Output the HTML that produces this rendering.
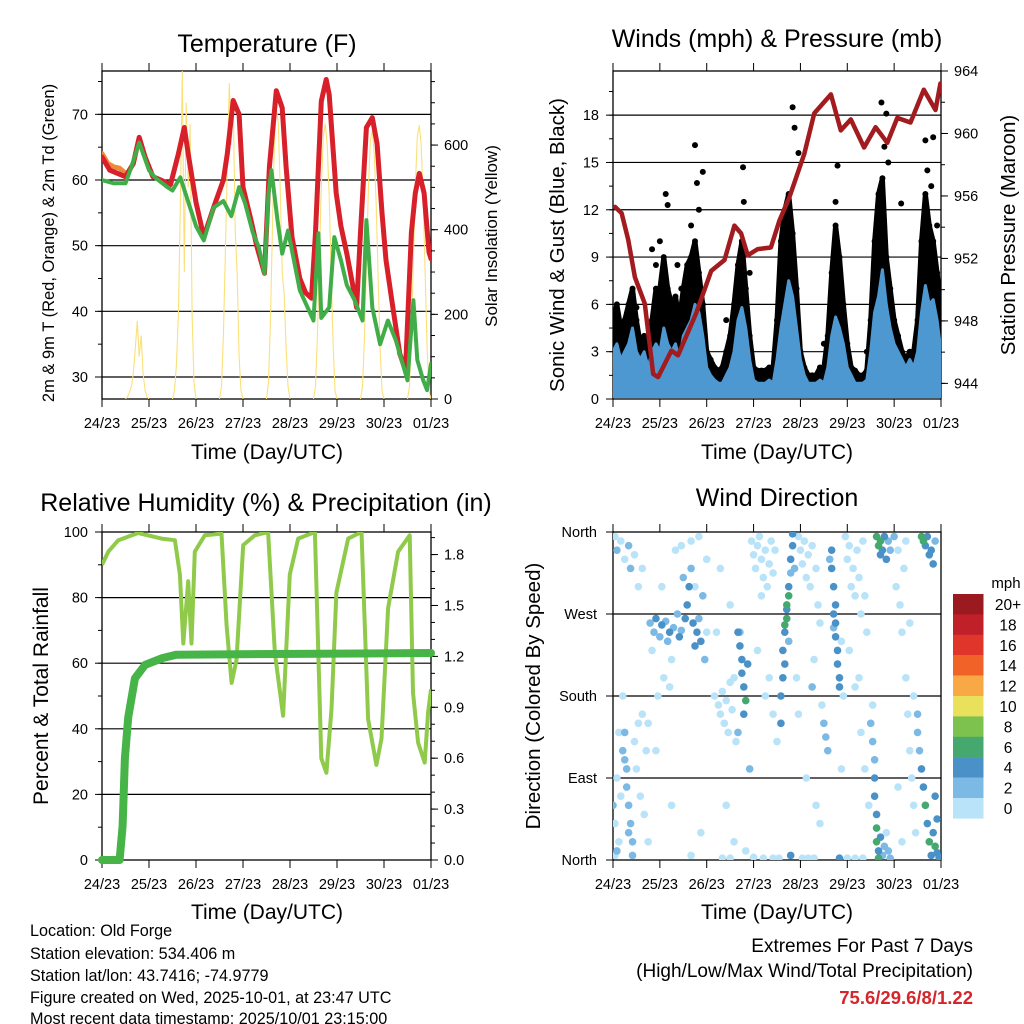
<!DOCTYPE html>
<html><head><meta charset="utf-8"><style>
html,body{margin:0;padding:0;background:#fff;}
svg{display:block;font-family:"Liberation Sans",Arial,sans-serif;}
</style></head><body>
<svg id="fig" width="1024" height="1024" viewBox="0 0 1024 1024" xmlns="http://www.w3.org/2000/svg">
<rect width="1024" height="1024" fill="#fff"/>
<text x="267" y="52" font-size="25" text-anchor="middle">Temperature (F)</text>
<text x="777" y="47" font-size="25" text-anchor="middle">Winds (mph) &amp; Pressure (mb)</text>
<text x="266" y="511" font-size="25" text-anchor="middle">Relative Humidity (%) &amp; Precipitation (in)</text>
<text x="777" y="506" font-size="25" text-anchor="middle">Wind Direction</text>
<text x="267" y="459" font-size="21" text-anchor="middle">Time (Day/UTC)</text>
<text x="777" y="459" font-size="21" text-anchor="middle">Time (Day/UTC)</text>
<text x="267" y="919" font-size="21" text-anchor="middle">Time (Day/UTC)</text>
<text x="777" y="919" font-size="21" text-anchor="middle">Time (Day/UTC)</text>
<text transform="translate(54,243) rotate(-90)" font-size="16.5" text-anchor="middle">2m &amp; 9m T (Red, Orange) &amp; 2m Td (Green)</text>
<text transform="translate(497,236) rotate(-90)" font-size="17" text-anchor="middle">Solar Insolation (Yellow)</text>
<text transform="translate(564,245) rotate(-90)" font-size="20.5" text-anchor="middle">Sonic Wind &amp; Gust (Blue, Black)</text>
<text transform="translate(1015,235) rotate(-90)" font-size="20.5" text-anchor="middle">Station Pressure (Maroon)</text>
<text transform="translate(48,696) rotate(-90)" font-size="21" text-anchor="middle">Percent &amp; Total Rainfall</text>
<text transform="translate(540,696) rotate(-90)" font-size="20.5" text-anchor="middle">Direction (Colored By Speed)</text>
<g font-size="16.2">
<text x="30" y="936">Location: Old Forge</text>
<text x="30" y="959">Station elevation: 534.406 m</text>
<text x="30" y="981">Station lat/lon: 43.7416; -74.9779</text>
<text x="30" y="1003">Figure created on Wed, 2025-10-01, at 23:47 UTC</text>
<text x="30" y="1025" dy="-1">Most recent data timestamp: 2025/10/01 23:15:00</text>
</g>
<text x="973" y="952" font-size="19" text-anchor="end">Extremes For Past 7 Days</text>
<text x="973" y="977" font-size="19" text-anchor="end">(High/Low/Max Wind/Total Precipitation)</text>
<text x="973" y="1004" font-size="18.5" font-weight="bold" fill="#d4262b" text-anchor="end">75.6/29.6/8/1.22</text>
<text x="1006" y="588" font-size="15" text-anchor="middle">mph</text>
</svg>
<script>
const dayLabels=["24/23","25/23","26/23","27/23","28/23","29/23","30/23","01/23"];
const tempHours=[0,4,8,12,16,19,22,26,30,35,39,42,44,48,52,57,62,64,67,70,72,76,79,83,85.5,89,92,94,97,101,104,107,109,112,114.5,116,119.6,122,125,128,130,132,135,138,140.5,143,145,148,152,155,158,160,162,164.5,167,168];
const tempRed=[63.5,61.5,61,60.5,62.5,66.5,63.5,60.5,60,59.3,64,68,64,56.6,51.3,55.8,60,64,72.1,70,58.9,54,50,45.8,62,73.6,71,62,51.3,45,42.8,42,52,72,75.3,73,58,53,48.8,44,40.6,52,68,69.5,65.5,55,47.8,41.7,33.6,31,52,58,61,58,49,48];
const orangeHours=[0,3,6,9,12];
const tempOrange=[64,62.5,62,61.8,61];
const tdHours=[0,6,12,15,19,24,27,33,36,40,45,48,52,57,62,66,70,73,77,80,83,85,86.5,89.6,92,95,98,101,105,108,110.5,112,116,118.6,122,125,129,133,135,138,142,146,150,156,159,161,164,166,168];
const tdGreen=[60,59.5,59.5,62,65.7,61.5,60.4,59,58.4,60.4,55.8,53,50.8,55.8,56.8,54.5,58.9,56.5,52,49.8,45.8,58,61.5,53.9,48.8,52.3,47.8,43.2,40.6,38.6,51.9,39,40.6,51.3,47.8,44,41.7,38.6,53.9,40.6,35,38.6,35.6,29.5,41.7,32.6,29.5,28,32];
const solarDays=[
[0,5,15,30,60,120,185,100,150,60,20,5,0],
[0,20,80,200,450,775,300,700,500,650,200,40,0],
[0,30,150,350,550,746,600,700,400,300,100,20,0],
[0,40,180,400,600,690,650,500,300,250,120,30,0],
[0,30,150,330,500,620,650,600,480,300,130,20,0],
[0,30,140,320,490,610,635,580,460,290,120,20,0],
[0,30,150,330,500,620,647,600,470,300,120,20,0]];
const windHi=[3,3.5,2.5,3,3.5,4.5,3,2.5,3,2,3,3.5,3,4.5,3.5,3,3.5,2.5,4,4.5,5,6,5.5,4,2,1.5,1.2,1,1,1.5,2,3,5,5.8,4.5,2.5,1.2,1,1,1,1.2,1,2.5,4.5,6,7.5,6.5,4.5,2.5,1.5,1,1,1,1.2,1,2,4,5.2,4.5,3.5,2,1.5,1,1,1,1.2,3,5.5,6.5,8.2,6,4.5,3.5,3,2.5,2,2.5,2,3,5.5,7.2,6,6.3,5,3];
const gustHi=[5,6,4.5,5,6,7,5,3.5,4,3,5,7,7,9,7,6,6.5,5,7,8.5,9,10,8,6,3,2.5,2,1.8,2,3,4,6,8.5,10,7,4,2,1.8,1.8,1.8,2,2,5,10,12,13,10.5,7,3,2,1.5,1.5,1.5,2,2,4,8,11,9,6,3.5,2,1.8,1.5,1.5,1.8,5,10,13,14,9,7,5,4,3,2.5,3,3,5,10,13,11,10,8,6];
const gustOutHours=[3,10,12,22,24,27,28,35,40,42,43,46,44,66.6,67,70,92,93,95,115,114,137.5,140,139,141,147.6,160,164,161,163,166,20,33,58,88,108,130];
const gustOutValues=[4.5,6.5,5.8,8.5,10,13,12.3,7,11,16.1,13.7,14.4,12,14.7,12.5,8,18.5,17.2,15.6,14.8,12.5,18.8,18.1,16,15,12.4,16.4,16.6,14.5,13.5,11,9.5,8.5,5,11,3.5,3];
const pressHours=[1,4.4,7.8,11.2,16.3,20.6,23.1,29.9,33.3,42.6,50.3,57.1,62.2,65.6,69,74.1,80.9,85.2,90.3,98,103.1,111.6,116.7,121.8,128.6,134.5,140.5,145.6,152.4,159.2,165.2,167.7];
const pressValues=[955.3,954.9,953.2,950.8,949.1,944.6,944.4,946.1,945.8,948.5,951.2,951.9,954.1,953.6,952.2,952.6,952.7,954.4,955.9,958.7,961.3,962.5,960.2,960.9,959.1,960.4,959.4,961.0,960.7,962.8,961.5,963.2];
const rhHours=[0,3.2,8.3,18.5,30.4,37.2,39.8,41.5,44,45.7,47.4,52.5,61,63.6,66.2,68.7,72.1,78,84.8,88.3,92.5,95.9,100.2,108.7,112,114.6,117.2,119.7,125.7,132.5,135.9,140.1,142.7,146.1,151.2,157.1,158.8,161.4,164.8,166.5,168];
const rhValues=[90,94,97.5,99.7,98,97.5,87,66,85,66,94,99,99.5,71.5,54,61,96,99,100,63,44,87,98,100,31,26.6,46,81.6,98,100,43,29,37,76.8,94,99,51,35.8,29.7,45,52];
const precipHours=[0,9,10.5,11.7,13.4,15,16.8,22,30.8,38,168];
const precipValues=[0,0,0.2,0.6,0.84,0.95,1.07,1.15,1.19,1.21,1.22];
const dirHours=[
1,2,4,6,8,9,11,13,15,3,5,6,7,7,8,6,9,10,8,2,1,3,1,4,12,14,16,11,13,10,2,5,15,17,18,0,
19,21,22,24,25,27,28,29,31,33,34,35,37,38,39,41,42,43,44,45,46,40,36,30,26,23,20,32,35,40,44,48,42,25,29,18,47,48,22,30,45,40,
52,54,55,56,57,58,59,60,61,62,63,64,65,66,66,67,68,67,65,69,64,70,58,62,55,60,53,68,60,56,
71,72,73,74,75,76,77,78,79,80,81,82,83,76,74,78,80,82,72,77,82,84,
86,87,88,87,88,89,89,90,90,91,91,92,92,88,89,90,86,91,93,94,85,
95,96,97,98,99,100,101,102,104,105,106,103,107,108,109,110,97,100,103,99,106,95,102,104,
112,112,113,113,114,114,115,115,116,116,114,113,111,117,118,117,116,
119,120,121,122,123,124,125,126,127,128,129,130,121,124,127,129,131,120,124,128,132,126,
134,134,134,135,135,135,136,136,137,138,139,140,141,142,135,136,137,138,139,140,141,142,137,133,133,
145,146,147,148,149,150,151,152,153,154,155,146,148,150,152,154,156,144,
158,159,160,161,162,163,164,165,158,159,160,161,162,163,164,165,166,167,166,165,157,156];
const dirDegrees=[
355,340,350,330,345,320,335,300,320,140,120,110,100,80,60,140,40,20,30,90,40,20,5,70,100,70,50,130,150,5,10,180,160,120,20,60,
260,250,265,245,258,262,240,250,255,270,245,252,265,280,300,260,235,250,265,240,290,320,310,220,200,180,230,340,345,350,355,330,300,300,190,150,220,250,120,60,30,5,
180,170,160,185,150,175,140,195,165,200,130,250,235,220,205,190,175,160,250,215,140,100,60,20,320,280,250,10,2,2,
350,335,320,345,355,330,310,340,300,325,350,315,340,290,230,180,200,160,3,2,2,130,
180,200,215,230,250,265,275,290,300,315,330,345,358,258,280,240,150,5,320,200,2,
355,340,325,350,310,335,300,345,320,280,260,220,170,150,135,120,2,2,2,90,40,160,190,60,
340,320,300,270,260,245,230,215,200,190,280,255,330,240,180,100,2,
355,330,345,300,320,290,340,310,270,350,290,250,230,190,140,100,60,2,2,2,150,200,
110,90,70,50,35,20,10,2,25,5,15,30,10,2,355,345,350,340,355,330,350,340,335,130,170,
300,340,280,250,320,200,160,120,90,60,30,80,20,350,260,180,140,355,
355,350,345,355,335,340,325,350,100,80,60,40,20,5,30,15,8,3,45,70,120,160];
const dirSpeeds=[
1,2,1,1,3,3,1,1,1,1,3,3,3,3,3,3,3,3,2,1,1,1,1,1,1,1,1,1,1,2,3,1,1,1,1,3,
3,3,5,3,5,3,3,5,3,3,5,3,5,5,5,5,5,5,3,5,3,3,3,1,1,1,1,1,1,1,1,1,1,1,1,1,3,1,1,1,1,1,
1,1,1,1,1,1,1,1,1,1,1,5,5,5,5,5,7,5,3,5,3,3,1,1,1,1,1,1,1,1,
1,1,1,1,1,1,1,1,1,1,1,1,1,1,1,1,1,1,1,1,1,1,
5,5,5,5,5,7,5,7,5,3,5,5,5,7,7,3,5,5,3,1,1,
1,1,1,1,1,1,1,1,1,1,1,1,1,3,3,3,1,1,1,1,1,1,3,1,
5,5,5,5,5,5,5,5,5,5,5,3,3,1,1,1,5,
1,1,1,1,1,1,1,1,1,1,1,1,1,1,1,1,1,1,1,1,3,1,
3,5,5,5,7,7,5,7,5,3,3,1,3,3,7,7,7,5,5,5,3,3,5,3,1,
1,1,1,1,1,1,1,1,1,1,1,1,1,1,1,1,3,3,
7,7,5,5,5,5,5,3,5,5,7,5,7,5,5,7,5,5,5,5,3,3];
const speedLabels=["20+","18","16","14","12","10","8","6","4","2","0"];
const speedColors=["#9b1a1f","#c0202a","#e0352b","#f16229","#f9a846","#e9e15c","#7dc24e","#45a96f","#4a91c8","#7cb9e5","#b8e3f8"];

const NS="http://www.w3.org/2000/svg";
const svg=document.getElementById("fig");
function mk(tag,attrs,parent){const e=document.createElementNS(NS,tag);for(const k in attrs)e.setAttribute(k,attrs[k]);(parent||svg).appendChild(e);return e;}
const P1={x0:102,x1:431,y0:71,y1:399},P2={x0:613,x1:941,y0:71,y1:399},P3={x0:102,x1:431,y0:532,y1:860},P4={x0:613,x1:941,y0:532,y1:860};
function xs(p,h){return p.x0+h/168*(p.x1-p.x0);}
function linY(p,lo,hi){return v=>p.y1-(v-lo)/(hi-lo)*(p.y1-p.y0);}
const yT=linY(P1,26.65,76.6), yS=linY(P1,0,775), yW=linY(P2,0,20.8), yP=linY(P2,943,964), yR=linY(P3,0,100), yPr=linY(P3,0,1.933), yD=linY(P4,0,360);

function axes(p,name,left,right){
  const g=mk("g",{});
  
  
  left.grid.forEach(v=>{const y=left.f(v);const l=mk("line",{x1:p.x0,x2:p.x1,y1:y,y2:y,stroke:"#000","stroke-width":1.2},g);
    
    });
  dayLabels.forEach((lab,i)=>{const x=xs(p,i*24);
    mk("line",{x1:x,x2:x,y1:p.y0,y2:p.y0-8,stroke:"#000","stroke-width":1},g);
    mk("line",{x1:x,x2:x,y1:p.y1,y2:p.y1+8,stroke:"#000","stroke-width":1},g);
    const t=mk("text",{x:x,y:p.y1+29,"font-size":14.5,"text-anchor":"middle"},g);t.textContent=lab;
    
    });
  left.minor.forEach(v=>{const y=left.f(v);mk("line",{x1:p.x0,x2:p.x0-4,y1:y,y2:y,stroke:"#000"},g);});
  left.major.forEach((v,i)=>{const y=left.f(v);mk("line",{x1:p.x0,x2:p.x0-7,y1:y,y2:y,stroke:"#000"},g);
    const t=mk("text",{x:p.x0-(left.pad||14),y:y+5,"font-size":14.5,"text-anchor":"end"},g);t.textContent=left.labels[i];
    
    });
  if(right){
    right.minor.forEach(v=>{const y=right.f(v);mk("line",{x1:p.x1,x2:p.x1+4,y1:y,y2:y,stroke:"#000"},g);});
    right.major.forEach((v,i)=>{const y=right.f(v);mk("line",{x1:p.x1,x2:p.x1+7,y1:y,y2:y,stroke:"#000"},g);
      const t=mk("text",{x:p.x1+13,y:y+5,"font-size":14.5},g);t.textContent=right.labels[i];
      
      });
  }
  const b=mk("rect",{x:p.x0,y:p.y0,width:p.x1-p.x0,height:p.y1-p.y0,fill:"none",stroke:"#000","stroke-width":1.3},g);
  
  
}
function range(a,b,s){const r=[];for(let v=a;v<=b+1e-9;v+=s)r.push(+v.toFixed(3));return r;}
axes(P1,"temperature",{f:yT,grid:[30,40,50,60,70],major:[30,40,50,60,70],labels:["30","40","50","60","70"],minor:range(30,75,5)},
  {f:yS,major:[0,200,400,600],labels:["0","200","400","600"],minor:range(0,750,50)});
axes(P2,"winds",{f:yW,grid:[3,6,9,12,15,18],major:[0,3,6,9,12,15,18],labels:["0","3","6","9","12","15","18"],minor:range(0,19.5,1.5)},
  {f:yP,major:[944,948,952,956,960,964],labels:["944","948","952","956","960","964"],minor:range(944,964,2)});
axes(P3,"humidity",{f:yR,grid:[20,40,60,80],major:[0,20,40,60,80,100],labels:["0","20","40","60","80","100"],minor:range(0,100,10)},
  {f:yPr,major:[0,0.3,0.6,0.9,1.2,1.5,1.8],labels:["0.0","0.3","0.6","0.9","1.2","1.5","1.8"],minor:range(0,1.9,0.1)});
axes(P4,"direction",{f:yD,grid:[90,180,270],major:[0,90,180,270,360],labels:["North","East","South","West","North"],minor:[],pad:16},null);

function pts(p,hs,vs,fy){return hs.map((h,i)=>xs(p,h).toFixed(1)+","+fy(vs[i]).toFixed(1)).join(" ");}
const defs=mk("defs",{});
[P1,P2,P3,P4].forEach((p,i)=>{const c=mk("clipPath",{id:"clip"+i},defs);mk("rect",{x:p.x0,y:p.y0,width:p.x1-p.x0,height:p.y1-p.y0},c);});

const gT=mk("g",{"clip-path":"url(#clip0)"});


solarDays.forEach((day,d)=>{
  const hs=day.map((_,i)=>d*24+12+i);
  const l=mk("polyline",{points:pts(P1,hs,day,yS),fill:"none",stroke:"#fbe07a","stroke-width":1.1},gT);
  
  
});
const lo=mk("polyline",{points:pts(P1,orangeHours,tempOrange,yT),fill:"none",stroke:"#f0883a","stroke-width":5,"stroke-linejoin":"round","stroke-linecap":"round"},gT);


const lr=mk("polyline",{points:pts(P1,tempHours,tempRed,yT),fill:"none",stroke:"#d7202a","stroke-width":5,"stroke-linejoin":"round","stroke-linecap":"round"},gT);


const lg=mk("polyline",{points:pts(P1,tdHours,tdGreen,yT),fill:"none",stroke:"#40ad48","stroke-width":4,"stroke-linejoin":"round","stroke-linecap":"round"},gT);



const gW=mk("g",{"clip-path":"url(#clip1)"});


const wH=windHi.map((_,i)=>i*2);
const core=mk("polygon",{points:pts(P2,wH,windHi,yW)+" "+pts(P2,wH.slice().reverse(),gustHi.slice().reverse(),yW),fill:"#000",stroke:"#000","stroke-width":5,"stroke-linejoin":"round"},gW);


wH.forEach((h,i)=>{const c=mk("circle",{cx:xs(P2,h),cy:yW(gustHi[i]),r:3,fill:"#000"},gW);
  
  });
gustOutHours.forEach((h,i)=>{const c=mk("circle",{cx:xs(P2,h),cy:yW(gustOutValues[i]),r:3,fill:"#000"},gW);
  
  });
const wa=mk("polygon",{points:pts(P2,wH,windHi,yW)+" "+xs(P2,168)+","+yW(0.15)+" "+xs(P2,0)+","+yW(0.15),fill:"#4e98d1",stroke:"#4e98d1","stroke-width":3,"stroke-linejoin":"round"},gW);


const pl=mk("polyline",{points:pts(P2,pressHours,pressValues,yP),fill:"none",stroke:"#a21b1f","stroke-width":4.5,"stroke-linejoin":"round","stroke-linecap":"round"},gW);



const gR=mk("g",{"clip-path":"url(#clip2)"});


const rl=mk("polyline",{points:pts(P3,rhHours,rhValues,yR),fill:"none",stroke:"#8fca4b","stroke-width":4,"stroke-linejoin":"round"},gR);


const pr=mk("polyline",{points:pts(P3,precipHours,precipValues,yPr),fill:"none",stroke:"#46b447","stroke-width":8,"stroke-linejoin":"round","stroke-linecap":"round"},svg);



const gD=mk("g",{"clip-path":"url(#clip3)"});


const order=dirHours.map((_,i)=>i).sort((a,b)=>dirSpeeds[a]-dirSpeeds[b]);
order.forEach(i=>{const s=dirSpeeds[i];const bin=Math.min(10,Math.floor(s/2));
  const c=mk("circle",{cx:xs(P4,dirHours[i]),cy:yD(dirDegrees[i]),r:3.8,fill:speedColors[10-bin]},gD);
  
  });

const cb=mk("g",{});


speedLabels.forEach((lab,i)=>{const y=594+i*20.4;
  const r=mk("rect",{x:953,y:y,width:30.5,height:20.6,fill:speedColors[i]},cb);
  
  
  const t=mk("text",{x:1008,y:y+16,"font-size":15.5,"text-anchor":"middle"},cb);t.textContent=lab;
  
  });
</script>
</body></html>
